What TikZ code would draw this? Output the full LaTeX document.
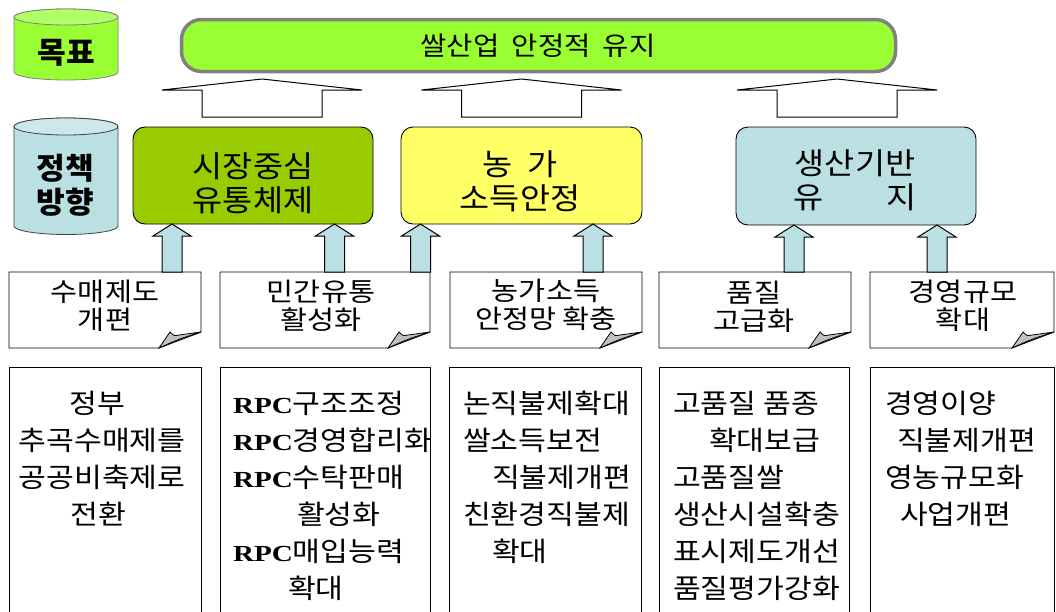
\documentclass[tikz,border=0pt]{standalone}
\usepackage{fontspec}
\usetikzlibrary{calc}
\setmainfont{Noto Sans CJK KR}
\newfontfamily\rpcfont{Liberation Serif}[FakeStretch=1.13]
\definecolor{limeG}{HTML}{99FF33}
\definecolor{limeTop}{HTML}{B0FF66}
\definecolor{barGray}{HTML}{808080}
\definecolor{boxGreen}{HTML}{99CC00}
\definecolor{boxYellow}{HTML}{FFFF66}
\definecolor{boxBlue}{HTML}{BBE0E3}
\definecolor{boxBlueTop}{HTML}{CCE8EB}
\definecolor{foldGray}{HTML}{C0C0C0}
\newcommand\blockarrow[6]{%
  \draw[#1] ($(#3)+(-#4,0)$) -- ($(#2)+(-#4,#6)$) -- ($(#2)+(-#5,#6)$) -- (#2)
    -- ($(#2)+(#5,#6)$) -- ($(#2)+(#4,#6)$) -- ($(#3)+(#4,0)$) -- cycle;}
\newcommand\notepaper[1]{%
  \draw[line width=0.9pt, fill=white] (#1.north west) -- (#1.north east) -- ($(#1.south east)+(0,-16)$)
    -- ($(#1.south east)+(-42,0)$) -- (#1.south west) -- cycle;
  \draw[line width=0.8pt, fill=foldGray] ($(#1.south east)+(-42,0)$) -- ($(#1.south east)+(-31,-16)$)
    .. controls ($(#1.south east)+(-27,-12)$) .. ($(#1.south east)+(-22,-13)$)
    -- ($(#1.south east)+(0,-16)$)
    .. controls ($(#1.south east)+(-22,-9)$) .. ($(#1.south east)+(-42,0)$) -- cycle;}
\newcommand\rpc{{\rpcfont\bfseries\fontsize{23}{28}\selectfont RPC}}
\begin{document}
\begin{tikzpicture}[x=1pt,y=-1pt,
  every node/.style={inner sep=0pt, outer sep=0pt},
  goalbar/.style={draw=barGray, line width=3.5pt, fill=limeG, rounded corners=20pt,
    minimum width=714pt, minimum height=52pt},
  goaltxt/.style={xscale=1.1, font=\fontsize{26}{30}\selectfont},
  policybox/.style={draw=black, line width=0.9pt, rounded corners=12pt,
    minimum width=240pt, minimum height=97pt},
  bigtxt/.style={align=center, xscale=1.09, font=\fontsize{30}{34}\selectfont},
  cyltxt/.style={align=center, xscale=1.04, font=\bfseries\fontsize{30}{34}\selectfont},
  noteshape/.style={minimum height=76pt},
  notetxt/.style={align=center, xscale=1.13, font=\fontsize{26}{27.5}\selectfont},
  detailbox/.style={draw=black, line width=0.9pt, fill=white, minimum height=273pt},
  tl/.style={text height=25pt, text depth=4.4pt, xscale=1.12, font=\fontsize{27}{30}\selectfont},
  hollow/.style={draw=black, line width=1pt, fill=white},
  feeder/.style={draw=black, line width=1pt, fill=boxBlue}]
\useasboundingbox (0,0) rectangle (1056,611);
\clip (0,0) rectangle (1056,611);
\fill[white] (0,0) rectangle (1056,611);

% cylinders
\path[draw=barGray, line width=0.8pt, fill=limeG] (14,17) -- (14,72)
  arc[start angle=180, end angle=0, x radius=52, y radius=8] -- (118,17)
  arc[start angle=0, end angle=-180, x radius=52, y radius=8] -- cycle;
\draw[barGray, line width=0.8pt, fill=limeTop] (66,17) ellipse[x radius=52, y radius=8];
\node[cyltxt] (goalLabel) at (66,53) {목표};

\path[draw=black!75, line width=0.8pt, fill=boxBlue] (14,126.5) -- (14,226)
  arc[start angle=180, end angle=0, x radius=52, y radius=8.5] -- (118,126.5)
  arc[start angle=0, end angle=-180, x radius=52, y radius=8.5] -- cycle;
\draw[black!75, line width=0.8pt, fill=boxBlueTop] (66,126.5) ellipse[x radius=52, y radius=8.5];
\node[cyltxt] (policyLabel) at (65,185) {정책\\방향};

% goal bar
\node[goalbar] (goal) at (538.5,45.5) {};
\node[goaltxt] (goalt) at (538,46) {쌀산업\hspace{11pt}안정적\hspace{11pt}유지};

% policy boxes
\node[policybox, fill=boxGreen] (g) at (253,175.5) {};
\node[policybox, fill=boxYellow, minimum width=241pt] (y) at (521.5,175.5) {};
\node[policybox, fill=boxBlue, minimum height=98pt] (b) at (856,176) {};
\node[bigtxt] (gt) at (253,183) {시장중심\\유통체제};
\node[bigtxt] (yt) at (520,181) {농\hspace{14pt}가\\소득안정};
\node[bigtxt] (bt) at (855,180.5) {생산기반\\유\hspace{57pt}지};

% big hollow arrows
\coordinate (ha1) at (262,0);
\coordinate (ha2) at (521.5,0);
\coordinate (ha3) at (837,0);
\coordinate (ht1) at ($(ha1 |- goal.south)+(0,7.5)$);
\coordinate (hb1) at ($(ha1 |- g.north)+(0,-10)$);
\coordinate (ht2) at ($(ha2 |- goal.south)+(0,7.5)$);
\coordinate (hb2) at ($(ha2 |- y.north)+(0,-10)$);
\coordinate (ht3) at ($(ha3 |- goal.south)+(0,7.5)$);
\coordinate (hb3) at ($(ha3 |- b.north)+(0,-10)$);
\blockarrow{hollow}{ht1}{hb1}{60}{100}{11}
\blockarrow{hollow}{ht2}{hb2}{60}{100}{11}
\blockarrow{hollow}{ht3}{hb3}{60}{100}{11}

% note boxes
\node[noteshape, minimum width=192pt] (s1) at (105,310) {};
\node[noteshape, minimum width=210pt] (s2) at (325,310) {};
\node[noteshape, minimum width=192pt] (s3) at (546,310) {};
\node[noteshape, minimum width=192pt] (s4) at (755,310) {};
\node[noteshape, minimum width=184pt] (s5) at (962,310) {};
\notepaper{s1}\notepaper{s2}\notepaper{s3}\notepaper{s4}\notepaper{s5}
\node[notetxt] (s1t) at (105,306) {수매제도\\개편};
\node[notetxt] (s2t) at (321,306) {민간유통\\활성화};
\node[notetxt] (s3t) at (546,305) {농가소득\\안정망 확충};
\node[notetxt] (s4t) at (754,307) {품질\\고급화};
\node[notetxt] (s5t) at (963,306) {경영규모\\확대};

% feeder arrows
\coordinate (fa1) at (172,0);
\coordinate (fa2) at (334.5,0);
\coordinate (fa3) at (420.5,0);
\coordinate (fa4) at (593,0);
\coordinate (fa5) at (794,0);
\coordinate (fa6) at (937,0);
\coordinate (ft1) at (fa1 |- g.south); \coordinate (fb1) at (fa1 |- s1.north);
\coordinate (ft2) at (fa2 |- g.south); \coordinate (fb2) at (fa2 |- s2.north);
\coordinate (ft3) at (fa3 |- y.south); \coordinate (fb3) at (fa3 |- s2.north);
\coordinate (ft4) at (fa4 |- y.south); \coordinate (fb4) at (fa4 |- s3.north);
\coordinate (ft5) at (fa5 |- b.south); \coordinate (fb5) at (fa5 |- s4.north);
\coordinate (ft6) at (fa6 |- b.south); \coordinate (fb6) at (fa6 |- s5.north);
\blockarrow{feeder}{ft1}{fb1}{10}{19}{12}
\blockarrow{feeder}{ft2}{fb2}{10}{19}{12}
\blockarrow{feeder}{ft3}{fb3}{10}{19}{12}
\blockarrow{feeder}{ft4}{fb4}{10}{19}{12}
\blockarrow{feeder}{ft5}{fb5}{10}{19}{12}
\blockarrow{feeder}{ft6}{fb6}{10}{19}{12}

% detail boxes
\node[detailbox, minimum width=192pt] (d1) at (105,503.5) {};
\node[detailbox, minimum width=210pt] (d2) at (325,503.5) {};
\node[detailbox, minimum width=192pt] (d3) at (545,503.5) {};
\node[detailbox, minimum width=190pt] (d4) at (754,503.5) {};
\node[detailbox, minimum width=184pt] (d5) at (962,503.5) {};

\node[tl] (d1a) at (97,403) {정부};
\node[tl] (d1b) at (102,440) {추곡수매제를};
\node[tl] (d1c) at (102,477) {공공비축제로};
\node[tl] (d1d) at (98,514) {전환};

\node[tl, anchor=west] (d2a) at (233,403) {\rpc 구조조정};
\node[tl, anchor=west] (d2b) at (233,440) {\rpc 경영합리화};
\node[tl, anchor=west] (d2c) at (233,477) {\rpc 수탁판매};
\node[tl, anchor=west] (d2d) at (297,514) {활성화};
\node[tl, anchor=west] (d2e) at (233,551) {\rpc 매입능력};
\node[tl, anchor=west] (d2f) at (288,588) {확대};

\node[tl, anchor=west] (d3a) at (463,403) {논직불제확대};
\node[tl, anchor=west] (d3b) at (463,440) {쌀소득보전};
\node[tl, anchor=west] (d3c) at (492,477) {직불제개편};
\node[tl, anchor=west] (d3d) at (463,514) {친환경직불제};
\node[tl, anchor=west] (d3e) at (492,551) {확대};

\node[tl, anchor=west] (d4a) at (673,403) {고품질 품종};
\node[tl, anchor=west] (d4b) at (709,440) {확대보급};
\node[tl, anchor=west] (d4c) at (673,477) {고품질쌀};
\node[tl, anchor=west] (d4d) at (673,514) {생산시설확충};
\node[tl, anchor=west] (d4e) at (673,551) {표시제도개선};
\node[tl, anchor=west] (d4f) at (673,588) {품질평가강화};

\node[tl, anchor=west] (d5a) at (885,403) {경영이양};
\node[tl, anchor=west] (d5b) at (897,440) {직불제개편};
\node[tl, anchor=west] (d5c) at (885,477) {영농규모화};
\node[tl, anchor=west] (d5d) at (900,514) {사업개편};
\end{tikzpicture}
\end{document}
